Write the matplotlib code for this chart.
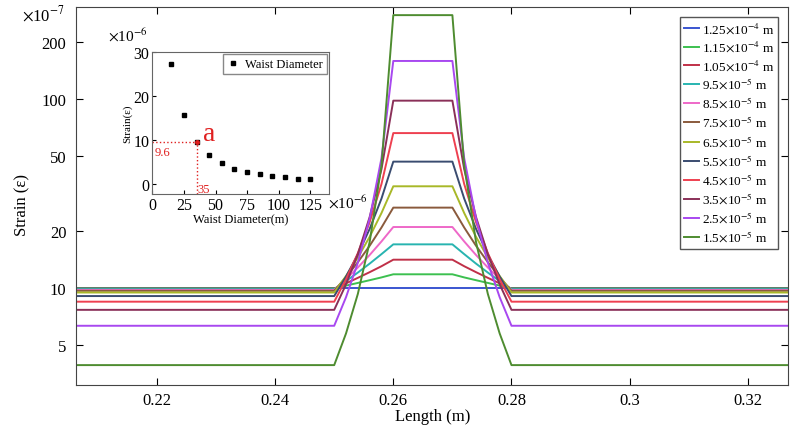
import matplotlib
matplotlib.use("Agg")
import matplotlib.pyplot as plt

plt.rcParams['font.family'] = ['Liberation Serif', 'DejaVu Serif']
plt.rcParams['mathtext.fontset'] = 'stix'

# waist diameters (legend order) and colours
labels = [r"1.25$\times$10$^{-4}$ m", r"1.15$\times$10$^{-4}$ m", r"1.05$\times$10$^{-4}$ m",
          r"9.5$\times$10$^{-5}$ m", r"8.5$\times$10$^{-5}$ m", r"7.5$\times$10$^{-5}$ m",
          r"6.5$\times$10$^{-5}$ m", r"5.5$\times$10$^{-5}$ m", r"4.5$\times$10$^{-5}$ m",
          r"3.5$\times$10$^{-5}$ m", r"2.5$\times$10$^{-5}$ m", r"1.5$\times$10$^{-5}$ m"]
colors = ["#3a55d0", "#3cc050", "#c03048", "#28b4b0", "#ee68c8", "#8a5a3c",
          "#a8b828", "#3a4c70", "#ee4050", "#8a3058", "#a848f0", "#4e8c30"]

# length positions: outer flat, taper, waist, taper, outer flat
x_start, x_end = 0.200, 0.335
taper_in = [0.250, 0.252, 0.254, 0.256, 0.258, 0.260]
taper_out = [0.270, 0.272, 0.274, 0.276, 0.278, 0.280]

# strain (x1e-7) along the taper, from fibre side to waist
taper_strain = [
    [10.0, 10.0, 10.0, 10.0, 10.0, 10.0],
    [9.95, 10.28, 10.62, 10.98, 11.36, 11.8],
    [9.9, 10.57, 11.3, 12.11, 13.02, 14.1],
    [9.85, 10.87, 12.05, 13.44, 15.09, 17.0],
    [9.75, 11.13, 12.82, 14.93, 17.61, 21.0],
    [9.65, 11.4, 13.68, 16.71, 20.87, 26.6],
    [9.45, 11.56, 14.47, 18.64, 24.9, 34.5],
    [9.05, 11.48, 15.03, 20.53, 29.7, 46.6],
    [8.45, 11.11, 15.27, 22.27, 35.48, 66.0],
    [7.65, 10.44, 15.09, 23.71, 42.55, 98.0],
    [6.3, 8.93, 13.6, 23.3, 48.6, 159.0],
    [3.9, 5.74, 9.29, 17.5, 44.5, 278.0],
]

# inset data: waist diameter (x1e-6 m) vs strain (x1e-6)
waist = [15, 25, 35, 45, 55, 65, 75, 85, 95, 105, 115, 125]
waist_strain = [27.3, 15.6, 9.6, 6.6, 4.7, 3.4, 2.8, 2.2, 1.7, 1.5, 1.2, 1.07]

W, H = 794, 427
fig = plt.figure(figsize=(W / 100, H / 100), dpi=100)
ax = fig.add_axes([76 / W, 1 - 386 / H, (788 - 76) / W, (386 - 8) / H])

xs = [x_start] + taper_in + taper_out + [x_end]
for lab, col, ts in zip(labels, colors, taper_strain):
    ys = [ts[0]] + ts + ts[::-1] + [ts[0]]
    ax.plot(xs, ys, color=col, lw=1.4, label=lab)

ax.set_yscale('log')
ax.set_ylim(3.06, 307)
ax.set_xlim(0.2063, 0.3268)
ax.set_yticks([5, 10, 20, 50, 100, 200])
ax.set_yticklabels(["5", "10", "20", "50", "100", "200"])
ax.minorticks_off()
ax.set_xticks([0.22, 0.24, 0.26, 0.28, 0.30, 0.32])
ax.set_xticklabels(["0.22", "0.24", "0.26", "0.28", "0.3", "0.32"])
ax.tick_params(direction='in', top=True, right=True, labelsize=12, length=5)
ax.tick_params(axis='x', pad=5)
ax.tick_params(axis='y', pad=7)
for s in ax.spines.values():
    s.set_color("#444444")

fig.text(22 / W, 1 - 15 / H, r"$\times$10$^{-7}$", fontsize=12, va='center')
fig.text(22 / W, 1 - 205 / H, "Strain (ε)", rotation=90, fontsize=12, va='center', ha='center')
fig.text(433 / W, 1 - 417 / H, "Length (m)", fontsize=12, va='center', ha='center')

fig.legend(loc='upper right', bbox_to_anchor=(778 / W, 1 - 18 / H), fontsize=9.5,
           handlelength=1.1, handletextpad=0.25, labelspacing=0.28, borderpad=0.3,
           borderaxespad=0, fancybox=False, edgecolor="#555555", framealpha=1)

# inset
ax2 = fig.add_axes([152.3 / W, 1 - 195 / H, (329.3 - 152.3) / W, (195 - 52.7) / H])
ax2.plot(waist, waist_strain, 's', color='black', ms=3, label="Waist Diameter")
ax2.set_xlim(0, 140)
ax2.set_ylim(-2.3, 30)
ax2.set_xticks([0, 25, 50, 75, 100, 125])
ax2.set_yticks([0, 10, 20, 30])
ax2.tick_params(direction='in', labelsize=11.5, length=3, pad=2)
for s in ax2.spines.values():
    s.set_color("#666666")
ax2.legend(loc='upper right', fontsize=9, handlelength=1.0, handletextpad=0.5,
           borderpad=0.3, borderaxespad=0.2, fancybox=False, edgecolor="#888888",
           framealpha=1)
ax2.set_xlabel("Waist Diameter(m)", fontsize=9, labelpad=0.5)
ax2.set_ylabel("Strain(ε)", fontsize=8, labelpad=1)

ax2.plot([0, waist[2]], [waist_strain[2], waist_strain[2]], ':', color='#e02020', lw=1)
ax2.plot([waist[2], waist[2]], [-2.3, waist_strain[2]], ':', color='#e02020', lw=1)
ax2.plot([waist[2]], [waist_strain[2]], 'o', color='#e02020', ms=2.5)
ax2.text(2, 7.3, "9.6", color='#e02020', fontsize=9, va='center')
ax2.text(36, -1.2, "35", color='#e02020', fontsize=9, va='center')
ax2.text(40, 11.5, "a", color='#e02020', fontsize=20, va='center')

fig.text(108 / W, 1 - 36 / H, r"$\times$10$^{-6}$", fontsize=11, va='center')
fig.text(328 / W, 1 - 203 / H, r"$\times$10$^{-6}$", fontsize=11, va='center')

fig.savefig("out.png", dpi=100)
